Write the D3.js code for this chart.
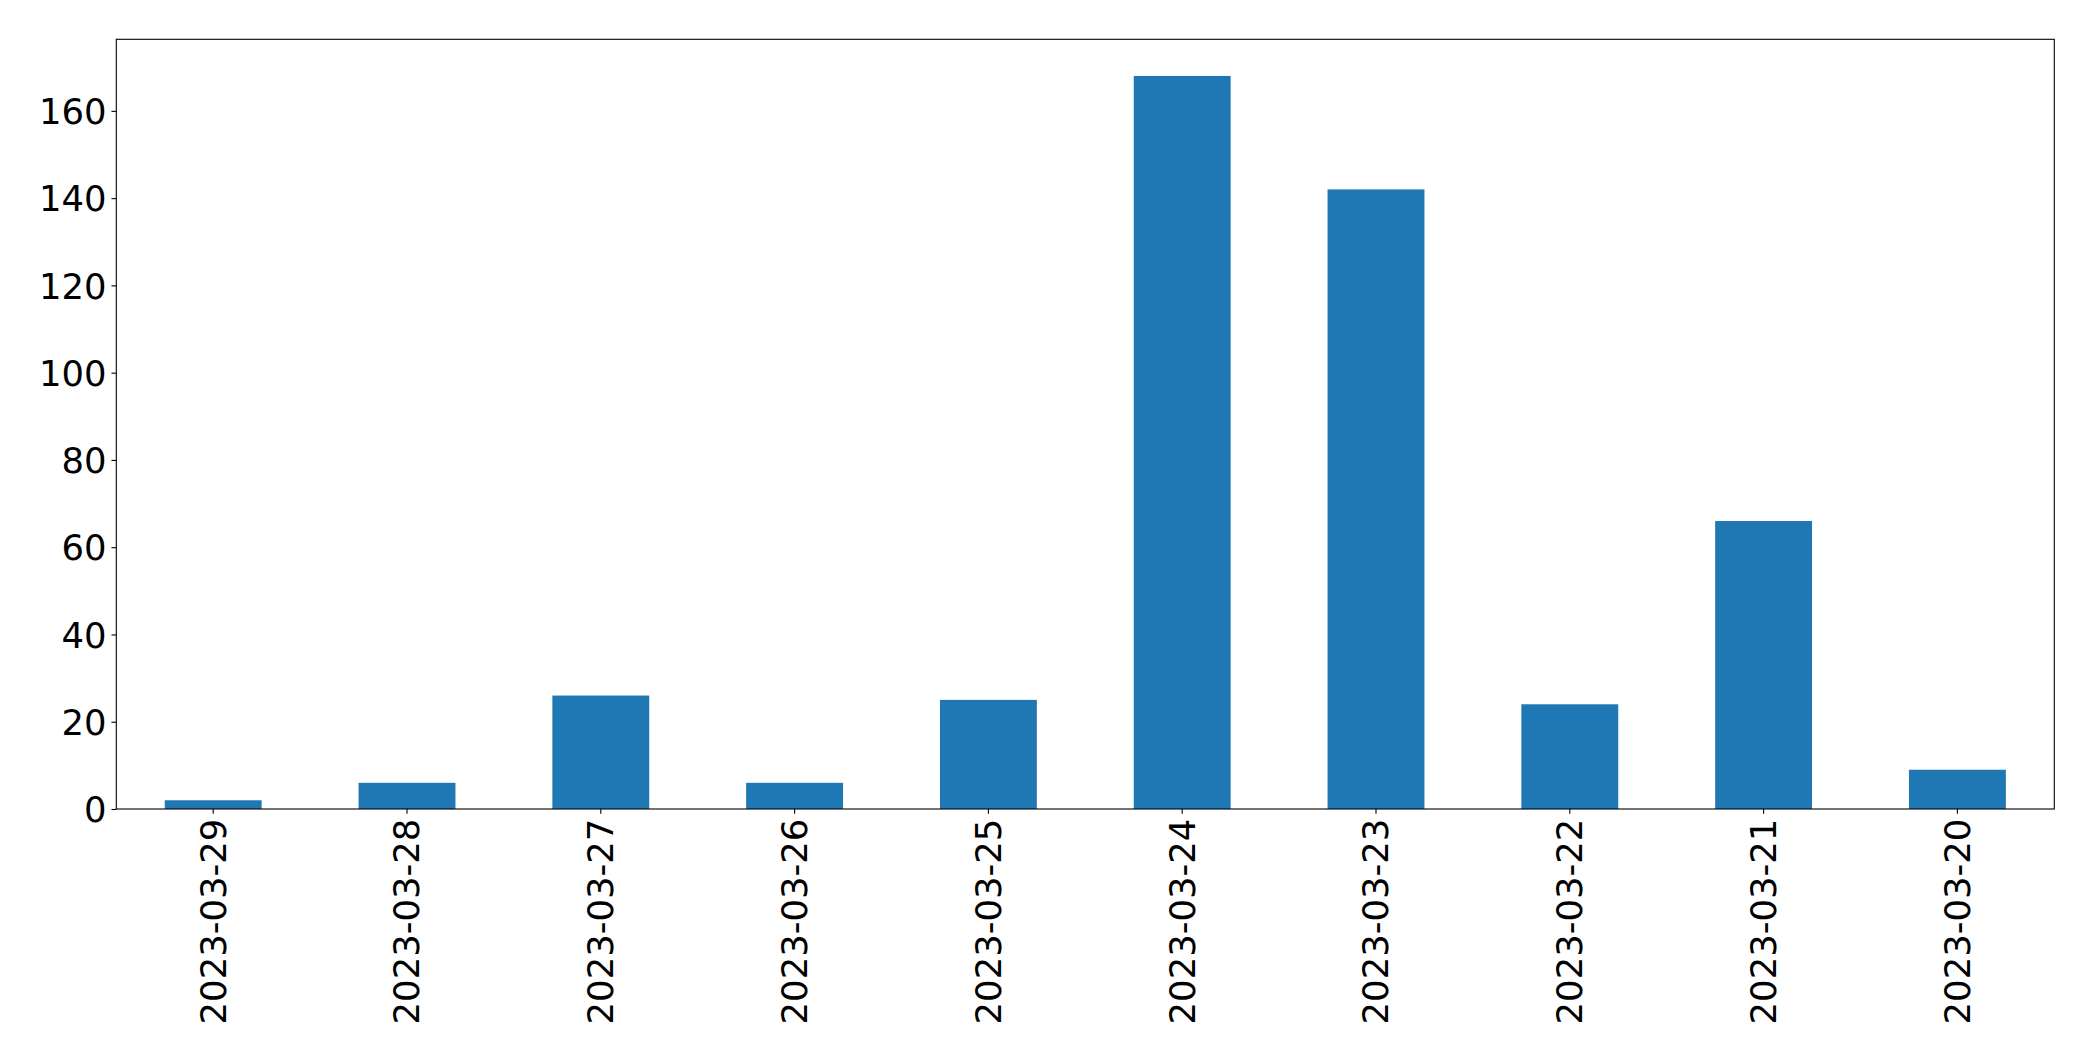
<!DOCTYPE html>
<html>
<head>
<meta charset="utf-8">
<script src="https://cdn.jsdelivr.net/npm/d3@7"></script>
<style>
html, body { margin: 0; padding: 0; background: #fff; }
svg { display: block; }
text { font-family: "DejaVu Sans", sans-serif; fill: #000; }
</style>
</head>
<body>
<script>
const categories = ["2023-03-29", "2023-03-28", "2023-03-27", "2023-03-26", "2023-03-25",
                    "2023-03-24", "2023-03-23", "2023-03-22", "2023-03-21", "2023-03-20"];
const values = [2, 6, 26, 6, 25, 168, 142, 24, 66, 9];
const yTicks = [0, 20, 40, 60, 80, 100, 120, 140, 160];

const W = 2093, H = 1061;
const margin = { left: 116.3, right: W - 2054.3, top: 39.3, bottom: H - 809 };
const iw = W - margin.left - margin.right;
const ih = H - margin.top - margin.bottom;
const tickLen = 4.86, pad = 4.86;
const fontSize = "35.4px";

const svg = d3.select("body").append("svg").attr("width", W).attr("height", H);
const g = svg.append("g").attr("transform", `translate(${margin.left},${margin.top})`);

const x = d3.scaleBand().domain(categories).range([0, iw]).paddingInner(0.5).paddingOuter(0.25);
const y = d3.scaleLinear().domain([0, d3.max(values) * 1.05]).range([ih, 0]);

g.selectAll("rect.bar").data(values).join("rect")
  .attr("class", "bar")
  .attr("x", (d, i) => x(categories[i]))
  .attr("width", x.bandwidth())
  .attr("y", d => y(d))
  .attr("height", d => y(0) - y(d))
  .attr("fill", "#1f77b4");

const yAxis = g.append("g").call(d3.axisLeft(y).tickValues(yTicks).tickSize(tickLen).tickPadding(pad).tickFormat(d3.format("d")));
yAxis.select(".domain").remove();
yAxis.selectAll(".tick line").attr("stroke", "#000").attr("stroke-width", 1.1);
yAxis.selectAll(".tick text").style("font-size", fontSize).attr("dy", "0.36em");

const xAxis = g.append("g").attr("transform", `translate(0,${ih})`)
  .call(d3.axisBottom(x).tickSize(tickLen).tickPadding(pad));
xAxis.select(".domain").remove();
xAxis.selectAll(".tick line").attr("stroke", "#000").attr("stroke-width", 1.1);
xAxis.selectAll(".tick text")
  .style("font-size", fontSize)
  .attr("text-anchor", "end")
  .attr("transform", "rotate(-90)")
  .attr("x", -(tickLen + pad))
  .attr("y", 0)
  .attr("dy", "0.35em");

g.append("rect").attr("x", 0).attr("y", 0).attr("width", iw).attr("height", ih)
  .attr("fill", "none").attr("stroke", "#000").attr("stroke-width", 1.1);
</script>
</body>
</html>
